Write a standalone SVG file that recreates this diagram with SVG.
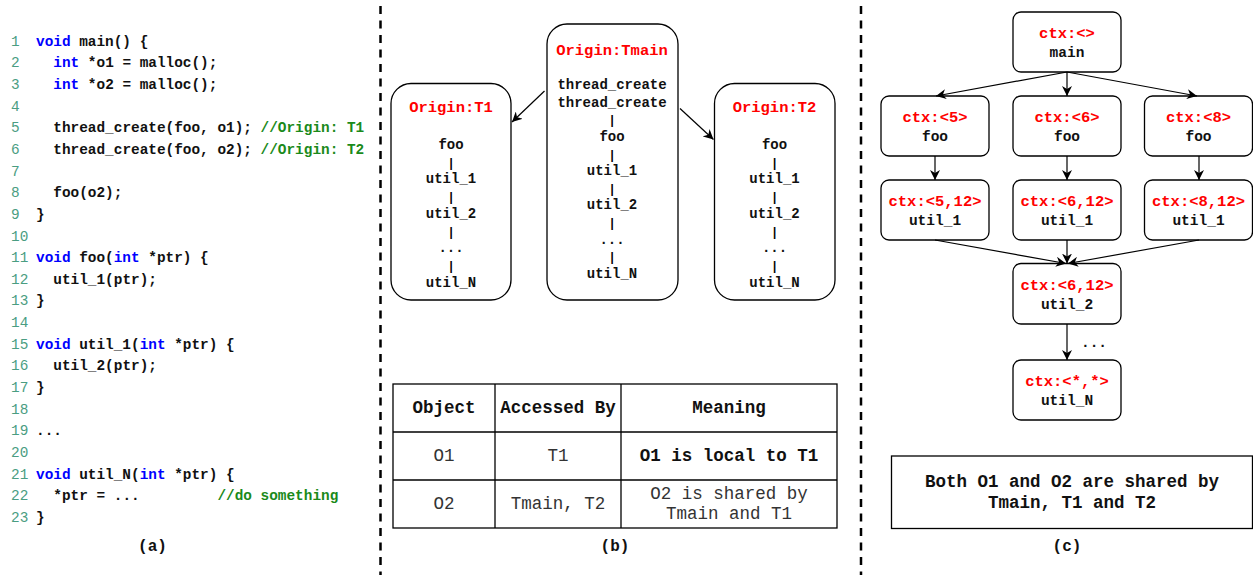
<svg xmlns="http://www.w3.org/2000/svg" width="1253" height="575" viewBox="0 0 1253 575">
  <defs>
    <marker id="arrow" viewBox="0 0 10 10" refX="10" refY="5" markerWidth="10" markerHeight="10" orient="auto" markerUnits="userSpaceOnUse">
      <path d="M0,0 L10,5 L0,10 L3,5 Z" fill="#000"/>
    </marker>
  </defs>
  <style>
    text { font-family: "Liberation Mono", "Courier New", monospace; }
    .ln { font-size: 14.4px; fill: #4a9d82; }
    .code { font-size: 14.4px; font-weight: bold; fill: #111; white-space: pre; }
    .kw { fill: #0000ff; }
    .cm { fill: #1a8a1a; }
    .sep { stroke: #000; stroke-width: 2.5; stroke-dasharray: 8 6.5; }
    .box { fill: #fff; stroke: #000; stroke-width: 1.3; }
    .hdr { font-size: 15.5px; font-weight: bold; fill: #ff0000; text-anchor: middle; }
    .item { font-size: 14px; font-weight: bold; fill: #111; text-anchor: middle; }
    .bar { font-size: 12px; font-weight: bold; fill: #000; text-anchor: middle; }
    .edge { fill: none; stroke: #000; stroke-width: 1.2; marker-end: url(#arrow); }
    .grid { fill: none; stroke: #000; stroke-width: 1.3; }
    .th { font-size: 17.5px; font-weight: bold; fill: #111; text-anchor: middle; }
    .td { font-size: 17.5px; fill: #333; text-anchor: middle; }
    .tdb { font-size: 17.5px; font-weight: bold; fill: #111; text-anchor: middle; }
    .ctx { font-size: 15.5px; font-weight: bold; fill: #ff0000; text-anchor: middle; }
    .fn { font-size: 14.5px; font-weight: bold; fill: #111; text-anchor: middle; }
    .note { font-size: 17.5px; font-weight: bold; fill: #111; text-anchor: middle; }
    .cap { font-size: 16px; font-weight: bold; fill: #111; text-anchor: middle; }
  </style>

  <!-- column separators -->
  <line class="sep" x1="380.5" y1="6" x2="380.5" y2="575"/>
  <line class="sep" x1="861" y1="6" x2="861" y2="575"/>

  <!-- (a) source listing -->
  <g id="code">
    <g class="ln">
      <text x="11" y="45.7">1</text>
      <text x="11" y="67.3">2</text>
      <text x="11" y="89.0">3</text>
      <text x="11" y="110.6">4</text>
      <text x="11" y="132.3">5</text>
      <text x="11" y="153.9">6</text>
      <text x="11" y="175.5">7</text>
      <text x="11" y="197.2">8</text>
      <text x="11" y="218.8">9</text>
      <text x="11" y="240.5">10</text>
      <text x="11" y="262.1">11</text>
      <text x="11" y="283.7">12</text>
      <text x="11" y="305.4">13</text>
      <text x="11" y="327.0">14</text>
      <text x="11" y="348.7">15</text>
      <text x="11" y="370.3">16</text>
      <text x="11" y="391.9">17</text>
      <text x="11" y="413.6">18</text>
      <text x="11" y="435.2">19</text>
      <text x="11" y="456.9">20</text>
      <text x="11" y="478.5">21</text>
      <text x="11" y="500.1">22</text>
      <text x="11" y="521.8">23</text>
    </g>
    <text class="code" x="36" y="45.7"><tspan class="kw">void</tspan> main() {</text>
    <text class="code" x="53.3" y="67.3"><tspan class="kw">int</tspan> *o1 = malloc();</text>
    <text class="code" x="53.3" y="89.0"><tspan class="kw">int</tspan> *o2 = malloc();</text>
    <text class="code" x="53.3" y="132.3">thread_create(foo, o1); <tspan class="cm">//Origin: T1</tspan></text>
    <text class="code" x="53.3" y="153.9">thread_create(foo, o2); <tspan class="cm">//Origin: T2</tspan></text>
    <text class="code" x="53.3" y="197.2">foo(o2);</text>
    <text class="code" x="36" y="218.8">}</text>
    <text class="code" x="36" y="262.1"><tspan class="kw">void</tspan> foo(<tspan class="kw">int</tspan> *ptr) {</text>
    <text class="code" x="53.3" y="283.7">util_1(ptr);</text>
    <text class="code" x="36" y="305.4">}</text>
    <text class="code" x="36" y="348.7"><tspan class="kw">void</tspan> util_1(<tspan class="kw">int</tspan> *ptr) {</text>
    <text class="code" x="53.3" y="370.3">util_2(ptr);</text>
    <text class="code" x="36" y="391.9">}</text>
    <text class="code" x="36" y="435.2">...</text>
    <text class="code" x="36" y="478.5"><tspan class="kw">void</tspan> util_N(<tspan class="kw">int</tspan> *ptr) {</text>
    <text class="code" x="53.3" y="500.1">*ptr = ...         <tspan class="cm">//do something</tspan></text>
    <text class="code" x="36" y="521.8">}</text>
    <text class="cap" x="152.5" y="551">(a)</text>
  </g>

  <!-- (b) per-thread call chains -->
  <g id="origin-t1">
    <rect class="box" x="391" y="83.5" width="120" height="216.5" rx="20"/>
    <text class="hdr" x="451" y="112">Origin:T1</text>
    <text class="item" x="451" y="148.5">foo</text>
    <text class="bar" x="451" y="166.5">|</text>
    <text class="item" x="451" y="183.1">util_1</text>
    <text class="bar" x="451" y="201">|</text>
    <text class="item" x="451" y="217.7">util_2</text>
    <text class="bar" x="451" y="235.5">|</text>
    <text class="item" x="451" y="252.3">...</text>
    <text class="bar" x="451" y="270">|</text>
    <text class="item" x="451" y="286.9">util_N</text>
  </g>
  <g id="origin-tmain">
    <rect class="box" x="547" y="24" width="131" height="276" rx="20"/>
    <text class="hdr" x="612" y="54.5">Origin:Tmain</text>
    <text class="item" x="612" y="88.8">thread_create</text>
    <text class="item" x="612" y="106.8">thread_create</text>
    <text class="bar" x="612" y="123.5">|</text>
    <text class="item" x="612" y="141">foo</text>
    <text class="bar" x="612" y="158.5">|</text>
    <text class="item" x="612" y="175.2">util_1</text>
    <text class="bar" x="612" y="193">|</text>
    <text class="item" x="612" y="209.4">util_2</text>
    <text class="bar" x="612" y="226.5">|</text>
    <text class="item" x="612" y="243.6">...</text>
    <text class="bar" x="612" y="261">|</text>
    <text class="item" x="612" y="277.8">util_N</text>
  </g>
  <g id="origin-t2">
    <rect class="box" x="714.5" y="83.5" width="120.5" height="216.5" rx="20"/>
    <text class="hdr" x="774.5" y="112">Origin:T2</text>
    <text class="item" x="774.5" y="148.5">foo</text>
    <text class="bar" x="774.5" y="166.5">|</text>
    <text class="item" x="774.5" y="183.1">util_1</text>
    <text class="bar" x="774.5" y="201">|</text>
    <text class="item" x="774.5" y="217.7">util_2</text>
    <text class="bar" x="774.5" y="235.5">|</text>
    <text class="item" x="774.5" y="252.3">...</text>
    <text class="bar" x="774.5" y="270">|</text>
    <text class="item" x="774.5" y="286.9">util_N</text>
  </g>

  <!-- (b) access table -->
  <g id="access-table">
    <rect class="grid" x="393" y="384" width="444" height="144"/>
    <line class="grid" x1="393" y1="432" x2="837" y2="432"/>
    <line class="grid" x1="393" y1="480" x2="837" y2="480"/>
    <line class="grid" x1="495" y1="384" x2="495" y2="528"/>
    <line class="grid" x1="621" y1="384" x2="621" y2="528"/>
    <text class="th" x="444" y="412.5">Object</text>
    <text class="th" x="558" y="412.5">Accessed By</text>
    <text class="th" x="729" y="412.5">Meaning</text>
    <text class="td" x="444" y="461">O1</text>
    <text class="td" x="558" y="461">T1</text>
    <text class="tdb" x="729" y="461">O1 is local to T1</text>
    <text class="td" x="444" y="508.5">O2</text>
    <text class="td" x="558" y="508.5">Tmain, T2</text>
    <text class="td" x="729" y="499">O2 is shared by</text>
    <text class="td" x="729" y="519">Tmain and T1</text>
    <text class="cap" x="615" y="551">(b)</text>
  </g>

  <!-- (c) context-sensitive call graph -->
  <g id="ctx-main">
    <rect class="box" x="1013" y="12" width="108" height="60" rx="8"/>
    <text class="ctx" x="1067" y="37.5">ctx:&lt;&gt;</text>
    <text class="fn" x="1067" y="57">main</text>
  </g>
  <g id="ctx-5-foo">
    <rect class="box" x="881" y="96" width="108" height="60" rx="8"/>
    <text class="ctx" x="935" y="121.5">ctx:&lt;5&gt;</text>
    <text class="fn" x="935" y="141">foo</text>
  </g>
  <g id="ctx-6-foo">
    <rect class="box" x="1013" y="96" width="108" height="60" rx="8"/>
    <text class="ctx" x="1067" y="121.5">ctx:&lt;6&gt;</text>
    <text class="fn" x="1067" y="141">foo</text>
  </g>
  <g id="ctx-8-foo">
    <rect class="box" x="1144.5" y="96" width="108" height="60" rx="8"/>
    <text class="ctx" x="1198.5" y="121.5">ctx:&lt;8&gt;</text>
    <text class="fn" x="1198.5" y="141">foo</text>
  </g>
  <g id="ctx-5-12-util1">
    <rect class="box" x="881" y="180" width="108" height="60" rx="8"/>
    <text class="ctx" x="935" y="206">ctx:&lt;5,12&gt;</text>
    <text class="fn" x="935" y="225">util_1</text>
  </g>
  <g id="ctx-6-12-util1">
    <rect class="box" x="1013" y="180" width="108" height="60" rx="8"/>
    <text class="ctx" x="1067" y="206">ctx:&lt;6,12&gt;</text>
    <text class="fn" x="1067" y="225">util_1</text>
  </g>
  <g id="ctx-8-12-util1">
    <rect class="box" x="1144.5" y="180" width="108" height="60" rx="8"/>
    <text class="ctx" x="1198.5" y="206">ctx:&lt;8,12&gt;</text>
    <text class="fn" x="1198.5" y="225">util_1</text>
  </g>
  <g id="ctx-6-12-util2">
    <rect class="box" x="1013" y="263.5" width="108" height="60.5" rx="8"/>
    <text class="ctx" x="1067" y="289.5">ctx:&lt;6,12&gt;</text>
    <text class="fn" x="1067" y="309">util_2</text>
  </g>
  <g id="ctx-any-utilN">
    <rect class="box" x="1013" y="360" width="108" height="60" rx="8"/>
    <text class="ctx" x="1067" y="385.5">ctx:&lt;*,*&gt;</text>
    <text class="fn" x="1067" y="405">util_N</text>
  </g>
  <g id="summary">
    <rect class="grid" x="891.5" y="456" width="361" height="72.5"/>
    <text class="note" x="1072" y="486.5">Both O1 and O2 are shared by</text>
    <text class="note" x="1072" y="507.5">Tmain, T1 and T2</text>
    <text class="cap" x="1067" y="551">(c)</text>
  </g>

  <!-- connectors -->
  <g id="connectors">
    <line class="edge" x1="544.5" y1="91" x2="512" y2="122"/>
    <line class="edge" x1="680" y1="108.5" x2="713.5" y2="139.5"/>

    <line class="edge" x1="1067" y1="72" x2="936" y2="96"/>
    <line class="edge" x1="1067" y1="72" x2="1067" y2="96"/>
    <line class="edge" x1="1067" y1="72" x2="1197" y2="96"/>
    <line class="edge" x1="935" y1="156" x2="935" y2="180"/>
    <line class="edge" x1="1067" y1="156" x2="1067" y2="180"/>
    <line class="edge" x1="1199" y1="156" x2="1199" y2="180"/>
    <line class="edge" x1="935" y1="240" x2="1066" y2="263.5"/>
    <line class="edge" x1="1067" y1="240" x2="1067" y2="263.5"/>
    <line class="edge" x1="1199" y1="240" x2="1068" y2="263.5"/>
    <line class="edge" x1="1067" y1="324" x2="1067" y2="360"/>
    <text class="fn" x="1094" y="347">...</text>
  </g>
</svg>
